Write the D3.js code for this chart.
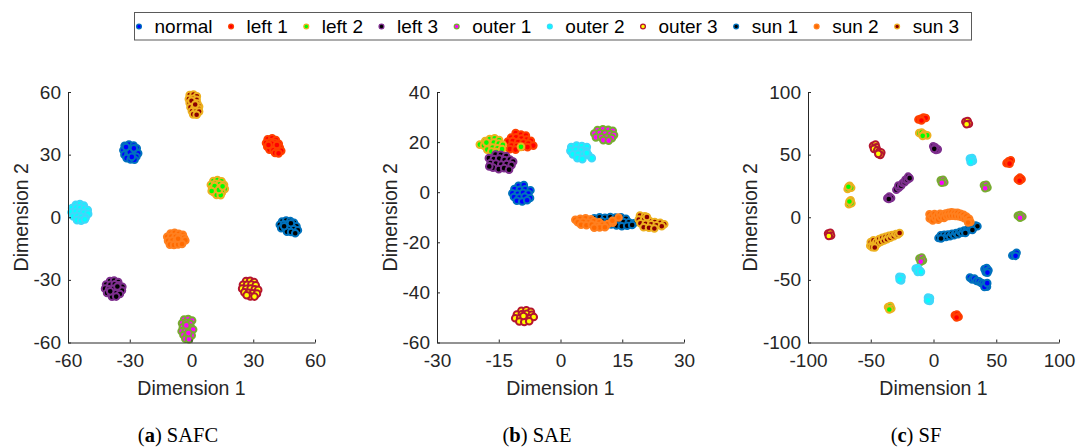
<!DOCTYPE html>
<html>
<head>
<meta charset="utf-8">
<script src="https://cdn.jsdelivr.net/npm/d3@7"></script>
<style>
  body { margin: 0; background: #fff; }
  svg { display: block; }
  text { font-family: "Liberation Sans", Arial, sans-serif; fill: #262626; }
  .cap { font-family: "Liberation Serif", "Times New Roman", serif; fill: #000; }
</style>
</head>
<body>
<div id="the_chart"></div>
<script>
// class names + marker colours (fill / edge)
var classes = ["normal", "left 1", "left 2", "left 3", "outer 1", "outer 2", "outer 3", "sun 1", "sun 2", "sun 3"];
var fillColors = ["#0000ff", "#ff0000", "#00ff00", "#000000", "#ff00ff", "#00ffff", "#ffff00", "#000000", "#ff6a00", "#8b0000"];
var edgeColors = ["#0072bd", "#ff4000", "#edb120", "#7e2f8e", "#77ac30", "#40d8fa", "#b5152f", "#0072bd", "#ff8020", "#edb120"];

// tick values
var safcTicks = [-60, -30, 0, 30, 60];
var saeXTicks = [-30, -15, 0, 15, 30];
var saeYTicks = [-60, -40, -20, 0, 20, 40];
var sfTicks = [-100, -50, 0, 50, 100];

// ---- (a) SAFC ----
var safc_normal = [[-32.5,34.2],[-30.4,34.8],[-28.1,34.3],[-26.6,33.0],[-33.1,32.1],[-31.2,32.6],[-29.3,32.0],[-27.4,31.8],[-25.9,30.6],[-32.6,30.0],[-30.6,30.3],[-28.5,29.6],[-26.8,29.0],[-31.5,28.3],[-29.6,27.7],[-27.7,27.6],[-30.0,31.2],[-28.0,33.0],[-31.8,33.6],[-29.0,28.9]];
var safc_left1 = [[37.0,37.4],[39.2,37.8],[41.0,37.0],[36.2,35.6],[38.3,36.0],[40.4,35.7],[42.4,35.2],[36.8,33.8],[38.9,34.3],[40.9,33.8],[42.9,33.4],[37.9,32.4],[39.8,32.1],[41.8,32.0],[43.6,31.8],[40.6,30.8],[42.3,30.6],[39.0,35.2],[41.5,34.6],[37.4,34.6]];
var safc_left2 = [[10.6,17.4],[12.6,17.8],[14.6,17.2],[9.4,15.6],[11.5,16.0],[13.6,15.8],[15.8,15.6],[10.0,13.8],[12.0,14.2],[14.0,13.9],[16.2,13.6],[10.8,12.0],[12.8,12.3],[14.8,11.9],[12.2,10.7],[14.2,10.6],[11.2,14.9],[13.3,13.1],[15.1,14.8],[9.8,12.6]];
var safc_left3 = [[-39.6,-30.6],[-37.6,-30.3],[-35.6,-31.0],[-41.5,-32.2],[-39.4,-32.4],[-37.3,-32.1],[-35.2,-32.6],[-33.6,-33.3],[-42.0,-34.2],[-40.0,-34.5],[-37.8,-34.3],[-35.8,-34.6],[-33.8,-35.1],[-41.0,-36.3],[-38.9,-36.5],[-36.8,-36.4],[-34.8,-36.8],[-38.6,-38.1],[-36.6,-38.0],[-39.5,-35.5],[-36.0,-33.2]];
var safc_outer1 = [[-3.6,-49.0],[-1.6,-48.8],[0.3,-49.5],[-4.6,-50.8],[-2.6,-50.6],[-0.6,-51.0],[-4.2,-52.7],[-2.2,-52.6],[-0.2,-52.9],[-4.8,-54.6],[-2.8,-54.4],[-0.8,-54.8],[0.8,-53.8],[-3.9,-56.4],[-1.9,-56.2],[0.1,-56.6],[-3.0,-58.2],[-1.2,-58.4],[-2.5,-51.8],[-1.5,-55.5]];
var safc_outer2 = [[-56.2,6.0],[-54.2,6.3],[-52.3,5.6],[-58.0,4.4],[-56.0,4.6],[-54.0,4.4],[-52.0,4.2],[-50.4,3.5],[-58.3,2.4],[-56.2,2.6],[-54.2,2.2],[-52.2,2.1],[-50.2,1.6],[-57.4,0.4],[-55.4,0.6],[-53.4,0.2],[-51.4,-0.1],[-55.6,-1.4],[-53.6,-1.6],[-51.8,-1.0]];
var safc_outer3 = [[26.5,-30.6],[28.5,-30.4],[30.4,-31.0],[25.0,-32.3],[27.0,-32.4],[29.1,-32.2],[31.2,-32.6],[24.6,-34.2],[26.6,-34.3],[28.7,-34.1],[30.7,-34.5],[32.4,-34.8],[25.7,-36.0],[27.7,-36.2],[29.8,-36.4],[31.8,-36.6],[28.6,-37.9],[30.6,-38.0],[26.8,-37.4]];
var safc_sun1 = [[44.0,-2.0],[46.0,-1.6],[48.0,-1.8],[49.8,-2.6],[42.9,-3.6],[44.9,-3.4],[47.0,-3.5],[49.0,-3.9],[51.0,-4.3],[43.6,-5.3],[45.6,-5.1],[47.7,-5.4],[49.7,-5.7],[51.7,-6.2],[46.4,-6.9],[48.4,-7.1],[50.4,-7.7],[45.0,-4.3],[48.3,-2.9]];
var safc_sun2 = [[-10.2,-7.8],[-8.2,-7.5],[-6.2,-7.9],[-4.2,-8.4],[-11.8,-9.4],[-9.8,-9.2],[-7.7,-9.4],[-5.7,-9.6],[-3.6,-9.9],[-11.4,-11.3],[-9.3,-11.2],[-7.2,-11.3],[-5.2,-11.5],[-3.0,-11.1],[-10.5,-13.1],[-8.5,-13.3],[-6.5,-13.0],[-4.6,-12.8],[-6.5,-10.3]];
var safc_sun3 = [[-0.9,58.5],[1.0,58.8],[2.6,58.0],[-1.3,56.6],[0.7,56.8],[2.5,56.3],[-0.9,54.7],[1.0,54.9],[2.9,54.5],[3.7,53.0],[-0.5,52.7],[1.5,52.8],[3.4,52.0],[0.2,50.8],[2.1,50.6],[3.7,50.6],[0.8,49.3],[2.5,49.1],[0.0,55.8],[1.8,54.0]];

// ---- (b) SAE ----
var sae_normal = [[-10.2,2.6],[-8.9,2.9],[-11.2,1.3],[-9.9,1.0],[-8.6,1.2],[-7.3,0.8],[-11.7,-0.4],[-10.4,-0.6],[-9.1,-0.2],[-7.8,-0.5],[-11.3,-1.9],[-10.0,-2.1],[-8.7,-1.8],[-7.4,-2.3],[-10.6,-3.4],[-9.3,-3.7],[-8.1,-3.2]];
var sae_left1 = [[-10.9,23.6],[-9.6,23.0],[-8.4,22.6],[-12.0,21.8],[-10.8,21.9],[-9.5,21.4],[-8.2,21.0],[-7.2,20.5],[-12.8,20.2],[-11.6,20.4],[-10.3,20.0],[-9.0,19.8],[-7.8,19.4],[-6.6,18.6],[-11.9,18.6],[-10.6,18.4],[-9.3,18.2],[-8.0,18.0],[-12.3,17.2],[-10.9,17.0]];
var sae_left2 = [[-19.6,19.0],[-18.3,20.4],[-17.2,21.2],[-16.0,21.5],[-14.9,20.8],[-18.6,18.6],[-17.4,19.3],[-16.2,19.8],[-15.0,19.4],[-14.0,18.9],[-17.8,17.0],[-16.5,17.8],[-15.3,17.5],[-14.2,17.2],[-16.8,16.2],[-15.6,16.0],[-18.0,19.8],[-9.6,18.1]];
var sae_left3 = [[-15.8,15.0],[-14.5,14.9],[-13.2,14.4],[-17.4,13.6],[-16.2,13.2],[-14.9,13.4],[-13.6,12.8],[-12.3,13.0],[-11.5,12.2],[-17.0,11.6],[-15.7,11.4],[-14.4,11.0],[-13.1,11.2],[-11.9,10.8],[-16.4,9.8],[-15.0,9.2],[-13.7,9.6],[-12.5,9.0],[-17.3,10.3]];
var sae_outer1 = [[9.0,24.8],[10.3,25.1],[11.6,24.9],[12.7,24.5],[8.2,23.4],[9.5,23.6],[10.8,23.4],[12.1,23.2],[13.0,22.8],[8.6,21.9],[9.9,22.0],[11.2,21.8],[12.5,21.6],[10.4,20.8],[11.7,20.6]];
var sae_outer2 = [[2.6,18.0],[3.9,18.6],[5.2,18.4],[6.4,18.0],[2.4,16.5],[3.7,16.9],[5.0,16.6],[6.3,16.4],[3.0,15.1],[4.3,15.3],[5.6,15.0],[6.8,14.8],[4.1,13.6],[5.3,13.2],[7.6,13.6],[6.4,15.6]];
var sae_outer3 = [[-9.5,-47.3],[-8.3,-47.1],[-7.2,-47.7],[-10.6,-48.8],[-9.4,-48.7],[-8.2,-48.5],[-7.0,-48.9],[-11.0,-50.3],[-9.8,-50.2],[-8.6,-50.0],[-7.3,-50.2],[-6.5,-49.8],[-10.0,-51.6],[-8.8,-51.8],[-7.6,-51.5],[-9.0,-49.4]];
var sae_sun1 = [[8.2,-10.4],[9.5,-10.0],[10.8,-10.2],[12.1,-9.9],[13.4,-10.1],[14.7,-10.0],[15.9,-10.6],[8.8,-11.8],[10.1,-11.6],[11.4,-11.8],[12.7,-11.4],[14.0,-11.7],[15.3,-11.9],[16.6,-12.0],[17.8,-12.4],[9.6,-13.0],[11.0,-13.2],[12.3,-12.9],[13.6,-13.3],[14.9,-13.6],[16.2,-13.4],[17.4,-13.1]];
var sae_sun2 = [[3.6,-11.0],[4.8,-10.6],[6.1,-10.4],[7.4,-10.8],[4.2,-12.0],[5.5,-11.8],[6.8,-12.1],[8.1,-11.6],[9.4,-12.0],[5.0,-13.0],[6.3,-13.2],[7.6,-12.9],[8.9,-13.4],[10.2,-13.0],[11.5,-12.7],[12.7,-12.2],[9.5,-14.1],[10.8,-14.0],[8.2,-14.2],[14.1,-10.1],[12.6,-11.4]];
var sae_sun3 = [[19.3,-9.3],[20.5,-9.6],[19.0,-10.9],[20.3,-11.0],[21.6,-11.4],[22.9,-11.9],[24.2,-12.2],[25.2,-12.8],[19.4,-12.4],[20.7,-12.6],[22.0,-12.8],[23.3,-13.2],[24.6,-13.6],[20.2,-14.0],[21.5,-14.2],[22.8,-14.5],[21.0,-9.9]];

// ---- (c) SF ----
var sf_normal = [[62.8,-30.6],[64.6,-29.8],[66.2,-28.4],[65.4,-30.8],[40.6,-41.4],[42.4,-40.6],[43.8,-42.4],[41.6,-43.8],[43.0,-44.2],
                 [29.0,-48.2],[30.8,-49.6],[32.6,-49.0],[34.4,-50.8],[36.2,-51.2],[38.0,-52.4],[39.6,-53.0],[41.2,-53.8],[42.6,-55.4],[40.6,-55.6],[42.8,-52.6]];
var sf_left1 = [[-12.0,78.0],[-10.2,78.6],[-8.0,79.6],[-6.2,79.2],[-9.6,77.2],[58.2,43.2],[59.8,44.6],[61.6,45.4],[60.6,42.8],
                [67.2,30.2],[68.8,31.6],[70.2,30.4],[68.6,29.2],[17.0,-78.2],[18.6,-77.6],[20.0,-79.4],[18.4,-80.0]];
var sf_left2 = [[-11.4,67.2],[-9.4,67.6],[-7.4,66.2],[-5.0,65.4],[-8.6,65.0],[-68.4,22.6],[-66.8,25.2],[-65.6,23.6],[-67.8,24.4],
                [-67.4,10.4],[-66.0,13.6],[-65.4,11.2],[-67.0,12.6],[-36.2,-71.6],[-34.4,-70.8],[-33.6,-72.8],[-35.2,-73.6]];
var sf_left3 = [[-0.2,56.6],[1.4,55.8],[3.4,54.2],[2.0,53.8],[0.6,54.6],[-29.6,22.0],[-27.6,23.6],[-28.0,25.4],[-25.8,25.2],[-24.6,27.4],
                [-23.0,28.0],[-22.4,30.0],[-20.8,30.0],[-20.2,32.4],[-19.0,31.2],[-36.8,15.2],[-35.2,16.6],[-33.8,15.4],[-35.6,14.6]];
var sf_outer1 = [[5.8,29.6],[7.6,30.0],[8.6,28.0],[6.6,27.6],[40.2,25.6],[42.0,26.0],[43.0,23.8],[41.2,23.2],
                 [67.2,1.2],[69.0,1.8],[70.8,0.6],[69.0,-0.4],[-11.2,-33.0],[-9.4,-32.2],[-8.4,-34.4],[-10.2,-35.4]];
var sf_outer2 = [[29.0,46.8],[30.8,47.2],[31.4,45.0],[29.6,44.2],[-14.2,-41.0],[-12.4,-40.6],[-10.8,-42.8],[-12.6,-43.6],[-10.0,-43.6],
                 [-27.2,-47.6],[-25.4,-47.8],[-25.8,-50.4],[-27.0,-49.8],[-4.4,-64.2],[-2.8,-64.6],[-3.0,-66.8],[-4.4,-66.4]];
var sf_outer3 = [[25.4,76.2],[27.2,76.8],[28.2,74.6],[26.4,74.2],[-48.2,57.0],[-46.2,58.0],[-45.6,55.8],[-47.4,54.6],[-44.8,53.4],
                 [-43.2,52.2],[-41.6,51.6],[-42.4,49.8],[-44.0,50.6],[-84.0,-13.0],[-82.2,-12.4],[-81.6,-14.6],[-83.4,-15.0]];
var sf_sun1 = [[4.0,-16.6],[5.8,-14.4],[7.0,-16.2],[8.6,-14.0],[10.0,-15.8],[11.6,-13.8],[13.2,-15.2],[14.8,-13.2],[16.4,-14.4],[18.0,-12.6],
               [19.6,-13.6],[21.2,-11.6],[22.8,-12.4],[24.4,-10.6],[26.0,-11.0],[27.6,-9.4],[29.2,-9.6],[30.6,-8.0],[32.2,-8.2],[33.6,-6.6],
               [35.0,-7.2],[31.0,-10.2],[25.4,-12.6],[6.0,-17.0]];
var sf_sun2 = [[-3.2,2.4],[-3.0,-1.0],[-1.2,0.8],[-0.6,-2.6],[0.8,2.6],[1.4,-0.4],[3.0,1.4],[3.8,-2.0],[5.2,2.8],[5.8,0.0],[7.4,2.2],
               [8.4,-0.6],[9.6,3.0],[10.6,0.8],[12.0,3.6],[12.8,1.0],[14.4,4.0],[15.0,1.2],[16.8,3.6],[17.4,1.0],[19.2,3.6],[19.8,0.8],
               [21.6,2.8],[22.2,0.2],[24.0,2.0],[24.6,-0.8],[26.2,0.6],[27.0,-2.0],[28.4,-1.2],[29.4,-3.8],[27.6,-4.2]];
var sf_sun3 = [[-50.4,-22.8],[-50.0,-19.8],[-48.2,-21.6],[-47.8,-18.4],[-46.0,-22.6],[-45.6,-19.8],[-44.0,-20.8],[-43.2,-17.4],[-41.8,-19.6],
               [-40.8,-16.4],[-39.4,-18.6],[-38.2,-15.6],[-37.0,-17.6],[-35.6,-14.8],[-34.4,-16.4],[-33.0,-14.2],[-31.6,-15.2],[-30.0,-13.4],
               [-28.4,-13.8],[-27.0,-12.6],[-48.8,-24.0],[-46.8,-24.2]];

var w = 1077, h = 448;

var svg = d3.select("#the_chart")
            .append("svg")
            .attr("width", w)
            .attr("height", h);

var panels = [
    {caption: "a", name: "SAFC", capX: 178, xdom: [-60, 60], ydom: [-60, 60], xt: safcTicks, yt: safcTicks,
     x0: 68, x1: 315, ylab: 28,
     groups: [safc_normal, safc_left1, safc_left2, safc_left3, safc_outer1, safc_outer2, safc_outer3, safc_sun1, safc_sun2, safc_sun3]},
    {caption: "b", name: "SAE", capX: 537, xdom: [-30, 30], ydom: [-60, 40], xt: saeXTicks, yt: saeYTicks,
     x0: 437, x1: 684, ylab: 397,
     groups: [sae_normal, sae_left1, sae_left2, sae_left3, sae_outer1, sae_outer2, sae_outer3, sae_sun1, sae_sun2, sae_sun3]},
    {caption: "c", name: "SF", capX: 916, xdom: [-100, 100], ydom: [-100, 100], xt: sfTicks, yt: sfTicks,
     x0: 808, x1: 1059, ylab: 757,
     groups: [sf_normal, sf_left1, sf_left2, sf_left3, sf_outer1, sf_outer2, sf_outer3, sf_sun1, sf_sun2, sf_sun3]}
];

var yTop = 92, yBot = 342.5;
var r = 3.3;

panels.forEach(function(p) {
    var xscale = d3.scaleLinear().domain(p.xdom).range([p.x0, p.x1]);
    var yscale = d3.scaleLinear().domain(p.ydom).range([yBot, yTop]);

    var g = svg.append("g");

    // points, class by class (later classes on top)
    p.groups.forEach(function(pts, ci) {
        g.append("g").selectAll("circle")
            .data(pts)
          .enter().append("circle")
            .attr("cx", function(d) { return xscale(d[0]); })
            .attr("cy", function(d) { return yscale(d[1]); })
            .attr("r", r)
            .attr("fill", fillColors[ci])
            .attr("stroke", edgeColors[ci])
            .attr("stroke-width", 2);
    });

    var xaxis = d3.axisBottom(xscale).tickValues(p.xt).tickFormat(function(d) { return String(d); })
                  .tickSizeInner(-3).tickSizeOuter(0).tickPadding(11);
    var yaxis = d3.axisLeft(yscale).tickValues(p.yt).tickFormat(function(d) { return String(d); })
                  .tickSizeInner(-3).tickSizeOuter(0).tickPadding(7);

    var gX = g.append("g").attr("transform", "translate(0," + yBot + ")").call(xaxis);
    var gY = g.append("g").attr("transform", "translate(" + p.x0 + ",0)").call(yaxis);
    [gX, gY].forEach(function(a) {
        a.selectAll("path, line").attr("stroke", "#262626");
        a.selectAll("text").style("font-size", "19px").attr("fill", "#262626")
         .style("font-family", "'Liberation Sans', Arial, sans-serif");
    });

    g.append("text")
        .attr("x", (p.x0 + p.x1) / 2).attr("y", 395)
        .attr("text-anchor", "middle")
        .style("font-size", "19.5px")
        .text("Dimension 1");

    g.append("text")
        .attr("transform", "translate(" + p.ylab + "," + ((yTop + yBot) / 2) + ") rotate(-90)")
        .attr("text-anchor", "middle")
        .style("font-size", "19.5px")
        .text("Dimension 2");

    var cap = g.append("text")
        .attr("class", "cap")
        .attr("x", p.capX).attr("y", 442)
        .attr("text-anchor", "middle")
        .style("font-size", "20.5px");
    cap.append("tspan").text("(");
    cap.append("tspan").style("font-weight", "bold").text(p.caption);
    cap.append("tspan").text(") " + p.name);
});

// legend
var lg = svg.append("g");
lg.append("rect")
    .attr("x", 134.5).attr("y", 12.5)
    .attr("width", 837).attr("height", 27.5)
    .attr("fill", "#fff")
    .attr("stroke", "#5a5a5a")
    .attr("stroke-width", 1);

var lx = 139;
classes.forEach(function(c, i) {
    lg.append("circle")
        .attr("cx", lx).attr("cy", 26.5)
        .attr("r", 2.4)
        .attr("fill", fillColors[i])
        .attr("stroke", edgeColors[i])
        .attr("stroke-width", 1.3);
    var t = lg.append("text")
        .attr("x", lx + 15.5).attr("y", 33)
        .style("font-size", "19px")
        .style("fill", "#000")
        .text(c);
    lx = lx + 15.5 + t.node().getComputedTextLength() + 18.5;
});
</script>
</body>
</html>
